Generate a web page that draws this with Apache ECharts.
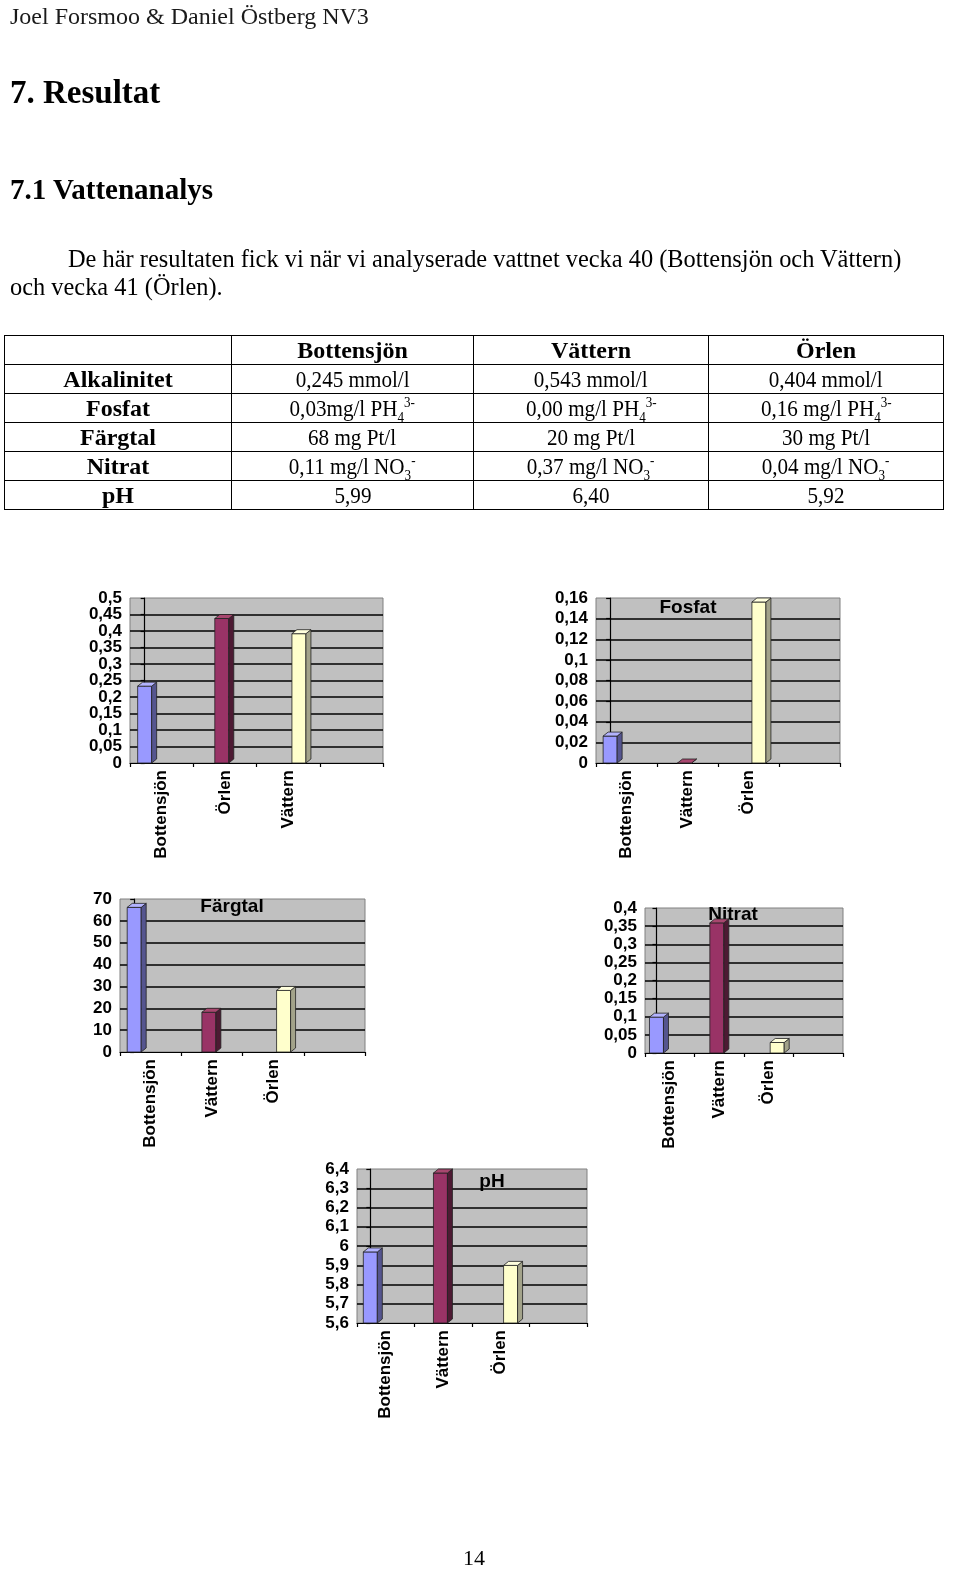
<!DOCTYPE html>
<html>
<head>
<meta charset="utf-8">
<script src="https://cdn.jsdelivr.net/npm/echarts@6/dist/echarts.min.js"></script>
<style>
html,body{margin:0;padding:0;background:#fff;}
#page{position:relative;width:960px;height:1591px;overflow:hidden;font-family:"Liberation Serif","Times New Roman",serif;color:#000;}
#chart{position:absolute;left:0;top:0;width:960px;height:1591px;}
.t{position:absolute;line-height:1;white-space:nowrap;}
table{position:absolute;left:4px;top:335px;border-collapse:collapse;font-size:24px;table-layout:fixed;}
td{border:1px solid #000;height:28px;padding:0;text-align:center;line-height:28px;white-space:nowrap;overflow:visible;}
td.h{font-weight:bold;}
td span{display:inline-block;transform:scaleX(0.88);transform-origin:center;}
sub,sup{font-size:0.62em;line-height:0;}
</style>
</head>
<body>
<div id="page">
  <div id="chart"></div>
  <div class="t" style="left:10px;top:4px;font-size:24px;color:#1a1a1a;">Joel Forsmoo &amp; Daniel Östberg NV3</div>
  <div class="t" style="left:10px;top:76px;font-size:33px;font-weight:bold;">7. Resultat</div>
  <div class="t" style="left:10px;top:175px;font-size:29px;font-weight:bold;">7.1 Vattenanalys</div>
  <div class="t" style="left:10px;top:245px;font-size:24.4px;line-height:28px;">
    <span style="display:inline-block;width:58px;"></span>De här resultaten fick vi när vi analyserade vattnet vecka 40 (Bottensjön och Vättern)<br>och vecka 41 (Örlen).
  </div>
  <table>
    <colgroup><col style="width:227px"><col style="width:242px"><col style="width:235px"><col style="width:235px"></colgroup>
    <tr><td></td><td class="h">Bottensjön</td><td class="h">Vättern</td><td class="h">Örlen</td></tr>
    <tr><td class="h">Alkalinitet</td><td><span>0,245 mmol/l</span></td><td><span>0,543 mmol/l</span></td><td><span>0,404 mmol/l</span></td></tr>
    <tr><td class="h">Fosfat</td><td><span>0,03mg/l PH<sub>4</sub><sup>3-</sup></span></td><td><span>0,00 mg/l PH<sub>4</sub><sup>3-</sup></span></td><td><span>0,16 mg/l PH<sub>4</sub><sup>3-</sup></span></td></tr>
    <tr><td class="h">Färgtal</td><td><span>68 mg Pt/l</span></td><td><span>20 mg Pt/l</span></td><td><span>30 mg Pt/l</span></td></tr>
    <tr><td class="h">Nitrat</td><td><span>0,11 mg/l NO<sub>3</sub><sup>-</sup></span></td><td><span>0,37 mg/l NO<sub>3</sub><sup>-</sup></span></td><td><span>0,04 mg/l NO<sub>3</sub><sup>-</sup></span></td></tr>
    <tr><td class="h">pH</td><td><span>5,99</span></td><td><span>6,40</span></td><td><span>5,92</span></td></tr>
  </table>
  <div class="t" style="left:463px;top:1547px;font-size:22px;">14</div>
</div>
<script>
// ---- data ----
const categoriesAlk = ['Bottensjön', 'Örlen', 'Vättern'];
const valuesAlk = [0.245, 0.45, 0.404];
const categories = ['Bottensjön', 'Vättern', 'Örlen'];
const valuesFosfat = [0.03, 0.0, 0.16];
const valuesFargtal = [68, 20, 30];
const valuesNitrat = [0.11, 0.37, 0.04];
const valuesPh = [5.99, 6.40, 5.92];
const chartTitles = ['', 'Fosfat', 'Färgtal', 'Nitrat', 'pH'];
const yMin = [0, 0, 0, 0, 5.6];
const yMax = [0.5, 0.16, 70, 0.4, 6.4];
const yInterval = [0.05, 0.02, 10, 0.05, 0.1];

// ---- styling / layout ----
const barColors = ['#9999ff', '#993366', '#ffffcc'];
const sideColors = ['#55558f', '#4d1a33', '#a3a38a'];
const topColors = ['#b3b3ff', '#a8476f', '#ffffdd'];
const layouts = [
  {left: 130, top: 598, width: 253, height: 165, tx: 0, ty: 0},
  {left: 596, top: 598, width: 244, height: 165, tx: 688, ty: 598},
  {left: 120, top: 899, width: 245, height: 153, tx: 232, ty: 897},
  {left: 645, top: 908, width: 198, height: 145, tx: 733, ty: 905},
  {left: 357, top: 1169, width: 230, height: 154, tx: 492, ty: 1172}
];
const FONT = '"Liberation Sans", Arial, sans-serif';

const datasets = [
  [categoriesAlk, valuesAlk],
  [categories, valuesFosfat],
  [categories, valuesFargtal],
  [categories, valuesNitrat],
  [categories, valuesPh]
];

const grids = [], xAxes = [], yAxes = [], series = [], titles = [];

function fmt(v) { return String(+v.toFixed(3)).replace('.', ','); }

function makeRender(k) {
  return function (params, api) {
    const idx = api.value(0);
    const v = api.value(1);
    const top = api.coord([idx, v]);
    const base = api.coord([idx, yMin[k]]);
    const w = 14, d = 5, dy = 4;
    const left = top[0] - w / 2;
    const frontTop = Math.min(top[1] + dy, base[1]);
    const c = barColors[idx], s = sideColors[idx], t = topColors[idx];
    const stroke = {stroke: '#222', lineWidth: 0.8, lineJoin: 'round'};
    return {
      type: 'group',
      children: [
        {type: 'rect', shape: {x: left, y: frontTop, width: w, height: base[1] - frontTop},
          style: Object.assign({fill: c}, stroke)},
        {type: 'polygon', shape: {points: [[left + w, frontTop], [left + w + d, frontTop - dy], [left + w + d, base[1] - dy], [left + w, base[1]]]},
          style: Object.assign({fill: s}, stroke)},
        {type: 'polygon', shape: {points: [[left, frontTop], [left + w, frontTop], [left + w + d, frontTop - dy], [left + d, frontTop - dy]]},
          style: Object.assign({fill: t}, stroke)}
      ]
    };
  };
}

const labelStyle = {fontFamily: FONT, fontWeight: 'bold', fontSize: 17, color: '#000'};

layouts.forEach((L, k) => {
  const cats = datasets[k][0], vals = datasets[k][1];
  const lo = yMin[k], hi = yMax[k], eps = yInterval[k] / 100;
  const isEnd = v => Math.abs(v - lo) < eps || Math.abs(v - hi) < eps;
  grids.push({left: L.left, top: L.top, width: L.width, height: L.height,
    show: true, backgroundColor: '#c0c0c0', borderColor: '#808080', borderWidth: 1, containLabel: false});
  xAxes.push({
    type: 'category', gridIndex: k, data: cats.concat(['']), boundaryGap: true,
    axisLine: {show: true, lineStyle: {color: '#000', width: 1.2}},
    axisTick: {show: true, length: 4, lineStyle: {color: '#000', width: 1.2}},
    axisLabel: Object.assign({rotate: 90, margin: 7, interval: 0}, labelStyle),
    splitLine: {show: false}
  });
  xAxes.push({type: 'value', gridIndex: k, min: -0.19, max: 3.09, show: false});
  // main axis: line, ticks, grid lines, inner labels
  yAxes.push({
    type: 'value', gridIndex: k, min: lo, max: hi, interval: yInterval[k],
    axisLine: {show: true, lineStyle: {color: '#000', width: 1.2}},
    axisTick: {show: true, length: 4, lineStyle: {color: '#000', width: 1.2}},
    axisLabel: Object.assign({margin: 8, showMinLabel: true, showMaxLabel: true,
      formatter: v => isEnd(v) ? '' : fmt(v)}, labelStyle),
    splitLine: {show: true, showMinLine: false, showMaxLine: false, lineStyle: {color: '#000', width: 1.5}}
  });
  // overlay axis: only the min and max labels
  yAxes.push({
    type: 'value', gridIndex: k, min: lo, max: hi, interval: yInterval[k], position: 'left', offset: 0,
    axisLine: {show: false}, axisTick: {show: false}, splitLine: {show: false},
    axisLabel: Object.assign({margin: 8, showMinLabel: true, showMaxLabel: true,
      formatter: v => isEnd(v) ? fmt(v) : ''}, labelStyle)
  });
  series.push({
    type: 'custom', xAxisIndex: 2 * k + 1, yAxisIndex: 2 * k, clip: false, z: 3,
    renderItem: makeRender(k),
    encode: {x: 0, y: 1},
    data: vals.map((v, i) => [i, v])
  });
  if (chartTitles[k]) {
    titles.push({text: chartTitles[k], left: L.tx, top: L.ty, textAlign: 'center', z: 1, padding: 0,
      textStyle: {fontFamily: FONT, fontWeight: 'bold', fontSize: 19, color: '#000'}});
  }
});

const chart = echarts.init(document.getElementById('chart'), null, {renderer: 'canvas'});
chart.setOption({
  animation: false,
  title: titles,
  grid: grids,
  xAxis: xAxes,
  yAxis: yAxes,
  series: series
});
</script>
</body>
</html>
